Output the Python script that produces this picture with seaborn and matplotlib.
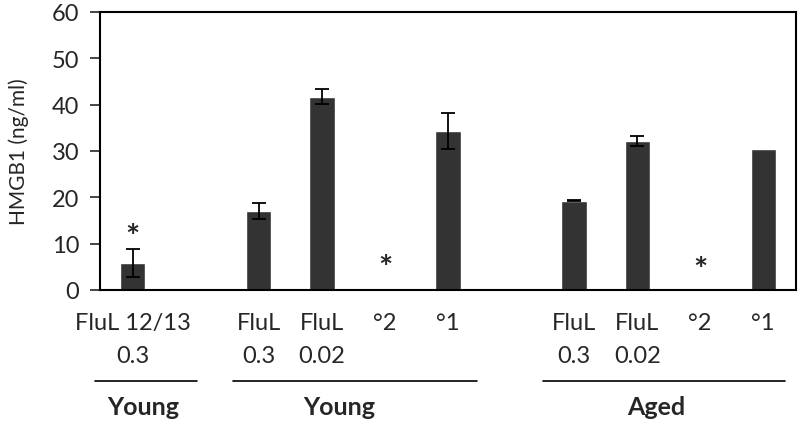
import seaborn as sns
import matplotlib.pyplot as plt
import matplotlib.transforms as mtransforms
import pandas as pd
import numpy as np

# values (ng/ml); blank slots separate the groups
slots = ['y_flul1213', 'gap1', 'y_flul03', 'y_flul002', 'y_deg2', 'y_deg1',
         'gap2', 'a_flul03', 'a_flul002', 'a_deg2', 'a_deg1']
tick_labels = ['FluL 12/13\n0.3', '', 'FluL\n0.3', 'FluL\n0.02', '°2', '°1',
               '', 'FluL\n0.3', 'FluL\n0.02', '°2', '°1']
hmgb1 = [5.8, np.nan, 17.1, 41.7, 0.0, 34.3, np.nan, 19.3, 32.2, 0.0, 30.4]
hmgb1_err = [3.0, np.nan, 1.7, 1.6, 0.0, 3.9, np.nan, 0.1, 1.1, 0.0, 0.0]
stars = ['y_flul1213', 'y_deg2', 'a_deg2']
star_heights = [8.1, 1.5, 1.0]

group_names = ['Young', 'Young', 'Aged']
group_spans = [(-0.6, 1.02), (1.59, 5.46), (6.51, 10.35)]
group_centers = [0.17, 3.27, 8.3]

df = pd.DataFrame({'slot': slots, 'hmgb1': hmgb1})

sns.set_style('white')
plt.rcParams['font.family'] = ['Lato', 'DejaVu Sans']

fig = plt.figure(figsize=(8, 4.31), dpi=100)
ax = fig.add_axes([0.125, 0.325, 0.87, 0.645])

sns.barplot(data=df, x='slot', y='hmgb1', order=slots, color='#333333',
            saturation=1, width=0.4, errorbar=None, ax=ax)

pos = np.arange(len(slots))
err = np.array(hmgb1_err)
mask = ~np.isnan(np.array(hmgb1)) & (err > 0)
ax.errorbar(pos[mask], np.array(hmgb1)[mask], yerr=err[mask], fmt='none',
            ecolor='black', elinewidth=1.3, capsize=5, capthick=1.3)

for s, h in zip(stars, star_heights):
    ax.text(slots.index(s), h, '*', ha='center', va='bottom', fontsize=24,
            fontweight='bold')

ax.set_ylim(0, 60)
ax.set_xlim(-0.52, 10.52)
ax.set_yticks(range(0, 61, 10))
ax.set_xticks(pos)
ax.set_xticklabels(tick_labels, fontsize=17, linespacing=1.7)
ax.tick_params(axis='x', length=0, pad=16)
ax.tick_params(axis='y', labelsize=17, length=7, width=1.2, left=True,
               direction='out', pad=8)
ax.set_xlabel('')
ax.set_ylabel('HMGB1 (ng/ml)', fontsize=15, labelpad=16)
for sp in ax.spines.values():
    sp.set_visible(True)
    sp.set_color('black')
    sp.set_linewidth(1.5)

trans = mtransforms.blended_transform_factory(ax.transData, ax.transAxes)
for name, (x0, x1), xc in zip(group_names, group_spans, group_centers):
    ax.plot([x0, x1], [-0.327, -0.327], color='black', lw=1.2,
            transform=trans, clip_on=False)
    ax.text(xc, -0.42, name, transform=trans, ha='center', va='center',
            fontsize=18, fontweight='bold')

fig.savefig('out.png', dpi=100)
